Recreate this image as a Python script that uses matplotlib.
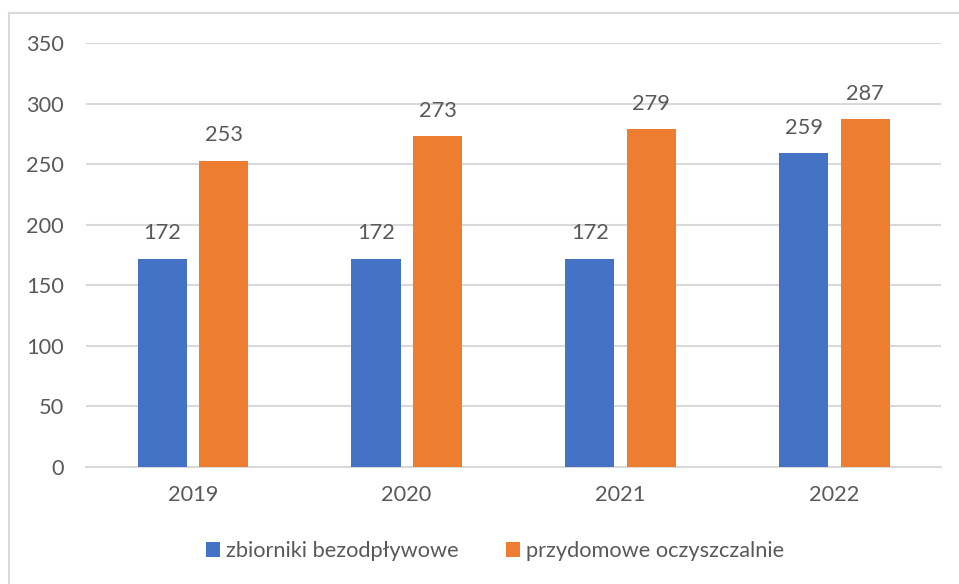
import numpy as np
import matplotlib.pyplot as plt
from matplotlib.patches import Rectangle

# dane
lata = ['2019', '2020', '2021', '2022']
zbiorniki = [172, 172, 172, 259]
oczyszczalnie = [253, 273, 279, 287]
serie = ['zbiorniki bezodpływowe', 'przydomowe oczyszczalnie']

plt.rcParams['font.family'] = ['Lato', 'DejaVu Sans']
szary = '#595959'
fs = 15.7

fig = plt.figure(figsize=(9.59, 5.84), dpi=100)
ax = fig.add_axes([86 / 959, 1 - 467 / 584, 855 / 959, 424 / 584])

x = np.arange(len(lata))
w = 0.23
b1 = ax.bar(x - 0.143, zbiorniki, w, color='#4472C4', label=serie[0], zorder=3)
b2 = ax.bar(x + 0.145, oczyszczalnie, w, color='#ED7D31', label=serie[1], zorder=3)

# etykiety wartości
for bars in (b1, b2):
    for r in bars:
        ax.annotate(str(int(r.get_height())), (r.get_x() + r.get_width() / 2, r.get_height()),
                    xytext=(0, 11), textcoords='offset points', ha='center', va='bottom',
                    fontsize=fs, color=szary)

ax.set_xlim(-0.5, 3.5)
ax.set_ylim(0, 350)
ax.set_yticks(range(0, 351, 50))
ax.set_xticks(x)
ax.set_xticklabels(lata)
ax.yaxis.grid(True, color='#d9d9d9', linewidth=1.5, zorder=0)
ax.set_axisbelow(True)
for s in ['top', 'right', 'left']:
    ax.spines[s].set_visible(False)
ax.spines['bottom'].set_color('#d9d9d9')
ax.spines['bottom'].set_linewidth(1.5)
ax.tick_params(axis='both', length=0, labelsize=fs, labelcolor=szary)
ax.tick_params(axis='y', pad=16)
ax.tick_params(axis='x', pad=13)

# legenda
fig.legend(loc='center', bbox_to_anchor=(495 / 959, 1 - 551 / 584), ncol=2, frameon=False,
           fontsize=fs, labelcolor=szary, handlelength=0.65, handleheight=0.65,
           handletextpad=0.25, columnspacing=2.2)

# ramka wykresu
fig.patches.append(Rectangle((9 / 959, -0.1), 1.1, 1 - 13 / 584 + 0.1, transform=fig.transFigure,
                             fill=False, edgecolor='#d9d9d9', linewidth=1.5))

fig.savefig('out.png', dpi=100)
